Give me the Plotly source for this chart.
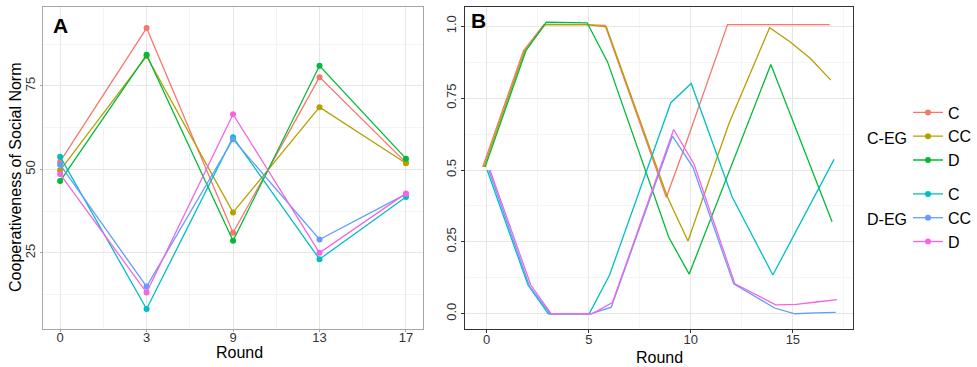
import plotly.graph_objects as go

# ---------------- data ----------------
series_names = ["C", "CC", "D", "C", "CC", "D"]
series_groups = ["C-EG", "C-EG", "C-EG", "D-EG", "D-EG", "D-EG"]

# Panel A: cooperativeness of social norm at selected rounds
rounds_A = [0, 3, 9, 13, 17]
A_CEG_C = [52.3, 92.3, 31.0, 77.6, 52.0]
A_CEG_CC = [49.7, 83.9, 37.1, 68.6, 51.8]
A_CEG_D = [46.5, 84.3, 28.6, 81.0, 53.2]
A_DEG_C = [53.8, 8.2, 59.6, 23.1, 41.7]
A_DEG_CC = [51.4, 14.9, 59.0, 29.0, 42.6]
A_DEG_D = [48.6, 13.1, 66.5, 25.0, 42.8]

# Panel B: proportion over rounds
rounds_B = [0, 2, 3, 5, 6, 9, 10, 12, 14, 15, 16, 17]
B_CEG_C = [0.51, 0.915, 1.006, 1.006, 1.003, 0.405, 0.60, 1.006, 1.006, 1.006, 1.006, 1.006]
B_CEG_CC = [0.51, 0.915, 1.006, 1.006, 0.998, 0.405, 0.253, 0.66, 0.995, 0.946, 0.888, 0.8125]
B_CEG_D = [0.51, 0.915, 1.014, 1.012, 0.876, 0.266, 0.138, 0.50, 0.867, 0.685, 0.50, 0.32]
B_DEG_C = [0.50, 0.10, 0.0, 0.0, 0.135, 0.734, 0.801, 0.407, 0.135, 0.27, 0.40, 0.537]
B_DEG_CC = [0.50, 0.095, 0.0, 0.0, 0.023, 0.618, 0.51, 0.104, 0.02, 0.0, 0.003, 0.005]
B_DEG_D = [0.50, 0.10, 0.0, 0.0, 0.039, 0.641, 0.52, 0.104, 0.031, 0.033, 0.041, 0.049]

A_values = [A_CEG_C, A_CEG_CC, A_CEG_D, A_DEG_C, A_DEG_CC, A_DEG_D]
B_values = [B_CEG_C, B_CEG_CC, B_CEG_D, B_DEG_C, B_DEG_CC, B_DEG_D]

# ---------------- style ----------------
colors = ["#F8766D", "#B79F00", "#00BA38", "#00BFC4", "#619CFF", "#F564E3"]
dodge = [-0.2, -0.14, -0.08, 0.02, 0.1, 0.16]
legend_ids = {"C-EG": "legend", "D-EG": "legend2"}
FONT = "Liberation Sans, Arial, sans-serif"
W, H = 977, 367


def px(x):
    return x / W


def py(y):
    return 1 - y / H


fig = go.Figure()

xA = list(range(len(rounds_A)))
for i in range(6):
    fig.add_trace(go.Scatter(
        x=xA, y=A_values[i], mode="lines+markers",
        line=dict(color=colors[i], width=1.3),
        marker=dict(color=colors[i], size=6),
        name=series_names[i], legendgroup=series_groups[i],
        legend=legend_ids[series_groups[i]],
        xaxis="x", yaxis="y", showlegend=True,
    ))

for i in range(6):
    fig.add_trace(go.Scatter(
        x=[r + dodge[i] for r in rounds_B], y=B_values[i], mode="lines",
        line=dict(color=colors[i], width=1.3),
        name=series_names[i], legendgroup=series_groups[i],
        xaxis="x2", yaxis="y2", showlegend=False,
    ))

tickfont = dict(family=FONT, size=13, color="#333333")
gridA, minorA, borderA = "#e6e6e6", "#f3f3f3", "#a6a6a6"
gridB, minorB, borderB = "#e6e6e6", "#f5f5f5", "#333333"

ydom = [py(329), py(7)]
legend_style = dict(
    x=px(912), xanchor="left", yanchor="middle",
    font=dict(family=FONT, size=16, color="black"),
    itemwidth=30, bgcolor="rgba(0,0,0,0)", borderwidth=0,
)

fig.update_layout(
    width=W, height=H,
    margin=dict(l=0, r=0, t=0, b=0),
    paper_bgcolor="white", plot_bgcolor="white",
    font=dict(family=FONT, color="black"),
    xaxis=dict(
        domain=[px(43), px(425)], anchor="y", range=[-0.2, len(rounds_A) - 1 + 0.2],
        tickmode="array", tickvals=xA, ticktext=[str(r) for r in rounds_A],
        showgrid=True, gridcolor=gridA, gridwidth=1,
        minor=dict(tickvals=[k + 0.5 for k in xA[:-1]], showgrid=True, gridcolor=minorA, gridwidth=1),
        showline=True, mirror=True, linecolor=borderA, linewidth=1,
        ticks="outside", ticklen=2, tickcolor=borderA, tickfont=tickfont, zeroline=False,
        ticklabelstandoff=-6,
    ),
    yaxis=dict(
        domain=ydom, anchor="x", range=[2.2, 98.6],
        tickmode="array", tickvals=[25, 50, 75], ticktext=["25", "50", "75"], tickangle=-90,
        showgrid=True, gridcolor=gridA, gridwidth=1,
        minor=dict(tickvals=[12.5, 37.5, 62.5, 87.5], showgrid=True, gridcolor=minorA, gridwidth=1),
        showline=True, mirror=True, linecolor=borderA, linewidth=1,
        ticks="outside", ticklen=2, tickcolor=borderA, tickfont=tickfont, zeroline=False,
    ),
    xaxis2=dict(
        domain=[px(467), px(857)], anchor="y2", range=[-1.06, 17.97],
        tickmode="array", tickvals=[0, 5, 10, 15], ticktext=["0", "5", "10", "15"],
        showgrid=True, gridcolor=gridB, gridwidth=1.2,
        minor=dict(tickvals=[2.5, 7.5, 12.5, 17.5], showgrid=True, gridcolor=minorB, gridwidth=1),
        showline=True, mirror=True, linecolor=borderB, linewidth=1,
        ticks="outside", ticklen=3, tickcolor=borderB, tickfont=tickfont, zeroline=False,
        ticklabelstandoff=-5,
    ),
    yaxis2=dict(
        domain=ydom, anchor="x2", range=[-0.053, 1.067],
        tickmode="array", tickvals=[0, 0.25, 0.5, 0.75, 1.0],
        ticktext=["0.0", "0.25", "0.5", "0.75", "1.0"], tickangle=-90,
        showgrid=True, gridcolor=gridB, gridwidth=1.2,
        minor=dict(tickvals=[0.125, 0.375, 0.625, 0.875], showgrid=True, gridcolor=minorB, gridwidth=1),
        showline=True, mirror=True, linecolor=borderB, linewidth=1,
        ticks="outside", ticklen=3, tickcolor=borderB, tickfont=tickfont, zeroline=False,
    ),
    legend=dict(y=py(136.5), **legend_style),
    legend2=dict(y=py(218), **legend_style),
    showlegend=True,
)

annotations = [
    dict(text="<b>A</b>", x=px(60.5), y=py(25.5), size=21),
    dict(text="<b>B</b>", x=px(480), y=py(20.5), size=21),
    dict(text="Round", x=px(240), y=py(352.5), size=16),
    dict(text="Round", x=px(662), y=py(357), size=16),
]
for a in annotations:
    fig.add_annotation(
        text=a["text"], x=a["x"], y=a["y"], xref="paper", yref="paper",
        xanchor="center", yanchor="middle", showarrow=False,
        font=dict(family=FONT, size=a["size"], color="black"),
    )
fig.add_annotation(
    text="Cooperativeness of Social Norm", x=px(15), y=py(177), xref="paper", yref="paper",
    xanchor="center", yanchor="middle", showarrow=False, textangle=-90,
    font=dict(family=FONT, size=16, color="black"),
)
for g, yc in [("C-EG", 138), ("D-EG", 219)]:
    fig.add_annotation(
        text=g, x=px(913), y=py(yc), xref="paper", yref="paper",
        xanchor="right", yanchor="middle", showarrow=False,
        font=dict(family=FONT, size=16, color="black"),
    )

fig.write_html(
    "out.html",
    config={"displayModeBar": False},
    post_script="document.body.style.margin='0px';document.body.style.overflow='hidden';",
)
